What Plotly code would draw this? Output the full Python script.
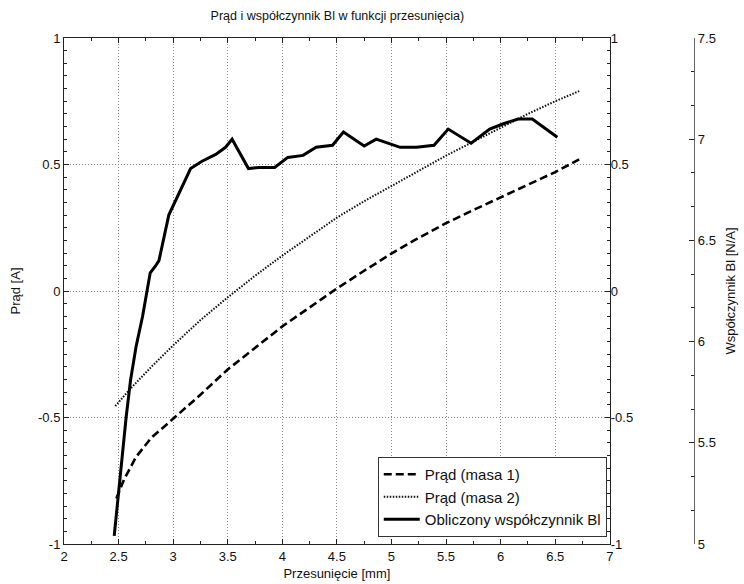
import plotly.graph_objects as go

# ---- data ----
x_masa1 = [2.48, 2.55, 2.66, 2.8, 3.0, 3.25, 3.5, 3.75, 4.0, 4.25, 4.5, 4.75, 5.0, 5.25, 5.5, 5.75, 6.0, 6.25, 6.5, 6.72]
i_masa1 = [-0.82, -0.745, -0.656, -0.58, -0.505, -0.41, -0.31, -0.225, -0.14, -0.065, 0.01, 0.08, 0.148, 0.21, 0.268, 0.32, 0.37, 0.42, 0.47, 0.52]

x_masa2 = [2.47, 2.6, 2.8, 3.0, 3.25, 3.5, 3.75, 4.0, 4.25, 4.5, 4.75, 5.0, 5.25, 5.5, 5.75, 6.0, 6.25, 6.5, 6.72]
i_masa2 = [-0.455, -0.39, -0.30, -0.215, -0.115, -0.025, 0.06, 0.14, 0.215, 0.29, 0.355, 0.415, 0.475, 0.535, 0.59, 0.645, 0.70, 0.75, 0.79]

x_bl = [2.46, 2.49, 2.52, 2.57, 2.61, 2.66, 2.72, 2.79, 2.84, 2.87, 2.96, 3.05, 3.16, 3.26, 3.39, 3.48, 3.54,
        3.69, 3.78, 3.93, 4.05, 4.19, 4.31, 4.46, 4.56, 4.75, 4.86, 5.08, 5.23, 5.39, 5.52, 5.73, 5.90,
        6.02, 6.16, 6.29, 6.52]
bl = [5.04, 5.21, 5.38, 5.63, 5.81, 5.975, 6.125, 6.34, 6.375, 6.40, 6.625, 6.73, 6.855, 6.89, 6.925, 6.96, 7.0,
      6.855, 6.86, 6.86, 6.91, 6.92, 6.96, 6.97, 7.035, 6.966, 7.0, 6.96, 6.96, 6.97, 7.05, 6.98, 7.05,
      7.075, 7.10, 7.10, 7.01]

x_ticks = [2, 2.5, 3, 3.5, 4, 4.5, 5, 5.5, 6, 6.5, 7]
x_ticktext = ["2", "2.5", "3", "3.5", "4", "4.5", "5", "5.5", "6", "6.5", "7"]
y_ticks = [-1, -0.5, 0, 0.5, 1]
y_ticktext = ["-1", "-0.5", "0", "0.5", "1"]
bl_ticks = [5, 5.5, 6, 6.5, 7, 7.5]
bl_ticktext = ["5", "5.5", "6", "6.5", "7", "7.5"]

FONT = "Liberation Sans, Arial, sans-serif"
AX = "#222222"
GRID = "#8a8a8a"
GDASH = "1px,2px"

W, H = 744, 584
ML, MR, MT, MB = 64, 4, 38, 40
PW = W - ML - MR
XD = (613 - ML) / PW
POS3 = (698 - ML) / PW

fig = go.Figure()
fig.add_trace(go.Scatter(x=x_masa1, y=i_masa1, mode="lines", name="Prąd (masa 1)",
                         line=dict(color="black", width=2.6, dash="8px,4px")))
fig.add_trace(go.Scatter(x=x_masa2, y=i_masa2, mode="lines", name="Prąd (masa 2)", yaxis="y2",
                         line=dict(color="#111111", width=2, dash="1.5px,1.5px")))
fig.add_trace(go.Scatter(x=x_bl, y=bl, mode="lines", name="Obliczony współczynnik Bl",
                         yaxis="y3", line=dict(color="black", width=3)))

fig.update_layout(
    width=W, height=H,
    margin=dict(l=ML, r=MR, t=MT, b=MB),
    paper_bgcolor="white", plot_bgcolor="white",
    font=dict(family=FONT, size=13, color="#111111"),
    title=dict(text="Prąd i współczynnik Bl w funkcji przesunięcia)",
               x=(339 - ML) / PW, xref="paper", xanchor="center",
               y=1 - 16 / H, yref="container", yanchor="middle",
               font=dict(family=FONT, size=12.5, color="#111111")),
    showlegend=True,
    legend=dict(x=(610 - ML) / PW, xanchor="right", y=(544 - 537) / (H - MT - MB), yanchor="bottom",
                bgcolor="white", bordercolor="#333333", borderwidth=1,
                font=dict(family=FONT, size=15), tracegroupgap=0,
                itemwidth=36),
    xaxis=dict(domain=[0, XD], range=[2, 7], tickvals=x_ticks, ticktext=x_ticktext,
               ticks="inside", ticklen=5, tickcolor=AX, showline=True, linecolor=AX, linewidth=1,
               mirror="ticks", showgrid=True, gridcolor=GRID, griddash=GDASH, gridwidth=1,
               zeroline=False,
               minor=dict(ticks="inside", dtick=0.25, ticklen=3, tickcolor=AX, showgrid=False),
               title=dict(text="Przesunięcie [mm]", font=dict(family=FONT, size=13), standoff=6),
               tickfont=dict(size=13)),
    yaxis=dict(range=[-1, 1], tickvals=y_ticks, ticktext=y_ticktext,
               ticks="inside", ticklen=5, tickcolor=AX, showline=True, linecolor=AX, linewidth=1,
               mirror=True, showgrid=True, gridcolor=GRID, griddash=GDASH, gridwidth=1,
               zeroline=False,
               minor=dict(ticks="inside", dtick=0.05, ticklen=3, tickcolor=AX, showgrid=False),
               title=dict(text="Prąd [A]", font=dict(family=FONT, size=13), standoff=14),
               tickfont=dict(size=13)),
    yaxis2=dict(overlaying="y", side="right", anchor="x", range=[-1, 1],
                tickvals=y_ticks, ticktext=y_ticktext,
                ticks="inside", ticklen=5, tickcolor=AX, showline=False, showgrid=False,
                zeroline=False,
                minor=dict(ticks="inside", dtick=0.05, ticklen=3, tickcolor=AX, showgrid=False),
                tickfont=dict(size=13)),
    yaxis3=dict(overlaying="y", side="right", anchor="free", position=POS3, range=[5, 7.5],
                tickvals=bl_ticks, ticktext=bl_ticktext,
                ticks="inside", ticklen=5, tickcolor=AX, showline=True, linecolor="#666666", linewidth=1,
                showgrid=False, zeroline=False,
                minor=dict(ticks="inside", tick0=5, dtick=0.5 / 3, ticklen=3, tickcolor=AX, showgrid=False),
                title=dict(text="Współczynnik Bl [N/A]", font=dict(family=FONT, size=13), standoff=10),
                tickfont=dict(size=13)),
)

fig.write_html("out.html")
